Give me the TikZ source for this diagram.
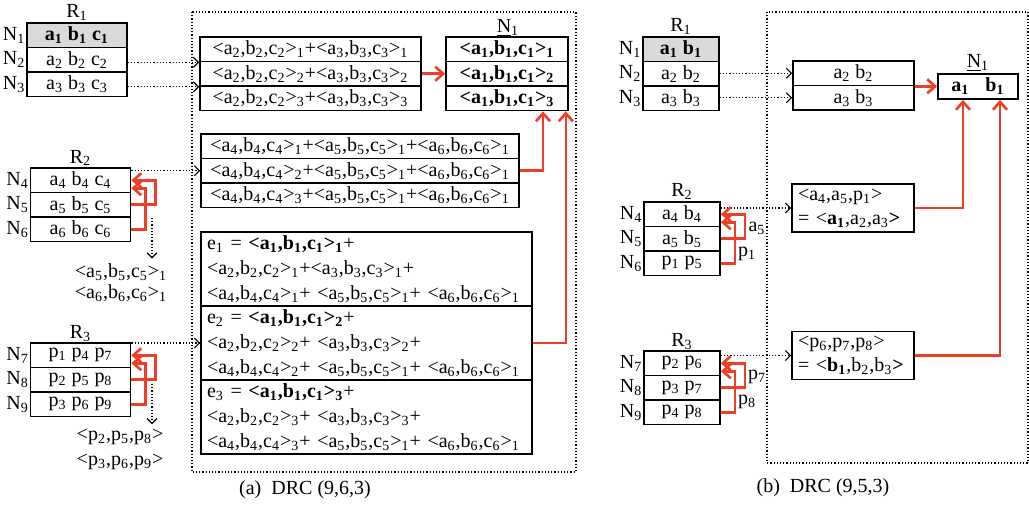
\documentclass[tikz,border=0pt]{standalone}
\usepackage{fontspec}
\setmainfont{Liberation Serif}
\usetikzlibrary{calc,arrows.meta}
\definecolor{linkred}{RGB}{238,62,40}
\definecolor{rowgray}{RGB}{218,218,218}
\newcommand{\idx}[1]{\textsubscript{#1}}
\newcommand{\tri}[2]{<a\idx{#1},b\idx{#1},c\idx{#1}>\idx{#2}}

\begin{document}
\begin{tikzpicture}[x=0.5pt, y=-0.5pt, line width=0.8pt,
    row/.style={draw, inner sep=0pt, minimum height=12.25pt},
    tag/.style={inner sep=0pt},
    ecell/.style={draw, inner xsep=3pt, inner ysep=0pt, text width=159.5pt, minimum height=37pt, align=left, font=\fontsize{10}{12.5}\selectfont},
    qcell/.style={draw, inner xsep=3pt, inner ysep=0pt, text width=55pt, minimum height=24pt, align=left, font=\fontsize{10}{12}\selectfont},
    dotarr/.style={densely dotted, line width=0.6pt, -{Straight Barb[length=2.5pt,width=5pt]}},
    redarr/.style={linkred, line width=1.3pt, -{Straight Barb[length=4pt,width=7pt]}}]
    \useasboundingbox (0,0) rectangle (1029,508);
    % (a) DRC (9,6,3)
    \draw[densely dotted, line width=0.6pt] (192,12) rectangle (576,472);
    \node[tag, anchor=base] (ra) at (77,18) {R\idx1};
    \node[row, minimum width=50pt, fill=rowgray] (ra1) at (77,35.25) {\textbf{a\idx1\ b\idx1\ c\idx1}};
    \node[row, minimum width=50pt] (ra2) at (77,59.75) {a\idx2 b\idx2 c\idx2};
    \node[row, minimum width=50pt] (ra3) at (77,84.25) {a\idx3 b\idx3 c\idx3};
    \node[tag, anchor=base] (rb) at (80.5,163) {R\idx2};
    \node[row, minimum width=50pt] (ra4) at (80.5,180.25) {a\idx4 b\idx4 c\idx4};
    \node[row, minimum width=50pt] (ra5) at (80.5,204.75) {a\idx5 b\idx5 c\idx5};
    \node[row, minimum width=50pt] (ra6) at (80.5,229.25) {a\idx6 b\idx6 c\idx6};
    \node[tag, anchor=base] (rc) at (80.5,338) {R\idx3};
    \node[row, minimum width=50pt] (ra7) at (80.5,355.25) {p\idx1 p\idx4 p\idx7};
    \node[row, minimum width=50pt] (ra8) at (80.5,379.75) {p\idx2 p\idx5 p\idx8};
    \node[row, minimum width=50pt] (ra9) at (80.5,404.25) {p\idx3 p\idx6 p\idx9};
    \foreach \i in {1,...,9}
        \node[tag, anchor=east] (ka\i) at (ra\i.west) {N\idx{\i}};
    \node[tag] (qa5) at (121,272) {\tri{5}{1}};
    \node[tag] (qa6) at (121,293) {\tri{6}{1}};
    \node[tag] (qa8) at (120,437) {<p\idx2,p\idx5,p\idx8>};
    \node[tag] (qa9) at (120,462) {<p\idx3,p\idx6,p\idx9>};
    % parity sums
    \node[row, minimum width=110.5pt] (sa1) at (310.5,49.25) {\tri{2}{1}+\tri{3}{1}};
    \node[row, minimum width=110.5pt] (sa2) at (310.5,73.75) {\tri{2}{2}+\tri{3}{2}};
    \node[row, minimum width=110.5pt] (sa3) at (310.5,98.25) {\tri{2}{3}+\tri{3}{3}};
    \node[tag, anchor=base] (na) at (508,33) {\underline{N}\idx1};
    \node[row, minimum width=61pt] (na1) at (507,49.25) {\textbf{\tri{1}{1}}};
    \node[row, minimum width=61pt] (na2) at (507,73.75) {\textbf{\tri{1}{2}}};
    \node[row, minimum width=61pt] (na3) at (507,98.25) {\textbf{\tri{1}{3}}};
    \node[row, minimum width=159pt] (sb1) at (360,146.25) {\tri{4}{1}+\tri{5}{1}+\tri{6}{1}};
    \node[row, minimum width=159pt] (sb2) at (360,170.75) {\tri{4}{2}+\tri{5}{1}+\tri{6}{1}};
    \node[row, minimum width=159pt] (sb3) at (360,195.25) {\tri{4}{3}+\tri{5}{1}+\tri{6}{1}};
    \node[ecell] (ea1) at (366.5,269) {e\idx1 = \textbf{\tri{1}{1}}+\\\tri{2}{1}+\tri{3}{1}+\\\tri{4}{1}+ \tri{5}{1}+ \tri{6}{1}};
    \node[ecell] (ea2) at (366.5,343) {e\idx2 = \textbf{\tri{1}{2}}+\\\tri{2}{2}+ \tri{3}{2}+\\\tri{4}{2}+ \tri{5}{1}+ \tri{6}{1}};
    \node[ecell] (ea3) at (366.5,417) {e\idx3 = \textbf{\tri{1}{3}}+\\\tri{2}{3}+ \tri{3}{3}+\\\tri{4}{3}+ \tri{5}{1}+ \tri{6}{1}};
    \node (capa) at (305,490) {(a)\hspace{0.5em}DRC (9,6,3)};
    % connectors (a)
    \draw[dotarr] (sa1.south west -| ra2.east) -- (sa1.south west);
    \draw[dotarr] (sa2.south west -| ra3.east) -- (sa2.south west);
    \draw[dotarr] (sb2.west -| ra4.east) -- (sb2.west);
    \draw[dotarr] (ea2.west -| ra7.east) -- (ea2.west);
    \coordinate (da2) at (152,218);
    \coordinate (da3) at (152,384);
    \draw[dotarr] (da2) -- ($(da2 |- qa5.north)+(0,-4)$);
    \draw[dotarr] (da3) -- ($(da3 |- qa8.north)+(0,-4)$);
    \draw[redarr] (ra5.east) -- ++(24,0) |- (ra4.east);
    \draw[redarr] (ra6.east) -- ++(14,0) |- ($(ra4.east)+(0,8)$);
    \draw[redarr] (ra8.east) -- ++(24,0) |- (ra7.east);
    \draw[redarr] (ra9.east) -- ++(14,0) |- ($(ra7.east)+(0,8)$);
    \draw[redarr] (sa2.east) -- (na2.west);
    \draw[redarr] (sb2.east) -| ($(na3.south)+(36,0)$);
    \draw[redarr] (ea2.east) -| ($(na3.south east)+(-3,0)$);

    % (b) DRC (9,5,3)
    \draw[densely dotted, line width=0.6pt] (767,12) rectangle (1028,463);
    \node[tag, anchor=base] (rd) at (681,32) {R\idx1};
    \node[row, minimum width=38pt, fill=rowgray] (rb1) at (681,49.25) {\textbf{a\idx1\ b\idx1}};
    \node[row, minimum width=38pt] (rb2) at (681,73.75) {a\idx2\ b\idx2};
    \node[row, minimum width=38pt] (rb3) at (681,98.25) {a\idx3\ b\idx3};
    \node[tag, anchor=base] (re) at (682,197) {R\idx2};
    \node[row, minimum width=38pt] (rb4) at (682,214.25) {a\idx4\ b\idx4};
    \node[row, minimum width=38pt] (rb5) at (682,238.75) {a\idx5\ b\idx5};
    \node[row, minimum width=38pt] (rb6) at (682,263.25) {p\idx1 p\idx5};
    \node[tag, anchor=base] (rf) at (682,346) {R\idx3};
    \node[row, minimum width=38pt] (rb7) at (682,363.25) {p\idx2 p\idx6};
    \node[row, minimum width=38pt] (rb8) at (682,387.75) {p\idx3 p\idx7};
    \node[row, minimum width=38pt] (rb9) at (682,412.25) {p\idx4 p\idx8};
    \foreach \i in {1,...,9}
        \node[tag, anchor=east] (kb\i) at (rb\i.west) {N\idx{\i}};
    \node[row, minimum width=60.5pt] (sc1) at (853.5,73.25) {a\idx2\ b\idx2};
    \node[row, minimum width=60.5pt] (sc2) at (853.5,97.75) {a\idx3\ b\idx3};
    \node[tag, anchor=base] (nb0) at (978,68) {\underline{N}\idx1};
    \node[row, minimum width=40pt, minimum height=12.5pt] (nb) at (978,86.5) {\textbf{a\idx1\hspace{0.8em}b\idx1}};
    \node[qcell] (qb1) at (853,208) {<a\idx4,a\idx5,p\idx1>\\= <\textbf{a\idx1},a\idx2,a\idx3\textbf{>}};
    \node[qcell] (qb2) at (853,355.5) {<p\idx6,p\idx7,p\idx8>\\= <\textbf{b\idx1},b\idx2,b\idx3\textbf{>}};
    \node[tag] (la5) at (757,228) {a\idx5};
    \node[tag] (lp1) at (747,254) {p\idx1};
    \node[tag] (lp7) at (757,377) {p\idx7};
    \node[tag] (lp8) at (747,402) {p\idx8};
    \node (capb) at (823,488) {(b)\hspace{0.5em}DRC (9,5,3)};
    % connectors (b)
    \draw[dotarr] (sc1.west -| rb2.east) -- (sc1.west);
    \draw[dotarr] (sc2.west -| rb3.east) -- (sc2.west);
    \draw[dotarr] (qb1.west -| rb4.east) -- (qb1.west);
    \draw[dotarr] (qb2.west -| rb7.east) -- (qb2.west);
    \draw[redarr] (rb5.east) -- ++(24,0) |- (rb4.east);
    \draw[redarr] (rb6.east) -- ++(14,0) |- ($(rb4.east)+(0,8)$);
    \draw[redarr] (rb8.east) -- ++(24,0) |- (rb7.east);
    \draw[redarr] (rb9.east) -- ++(14,0) |- ($(rb7.east)+(0,8)$);
    \draw[redarr] (sc1.south east) -- (sc1.south east -| nb.west);
    \draw[redarr] (qb1.east) -| ($(nb.south)+(-15,0)$);
    \draw[redarr] (qb2.east) -| ($(nb.south)+(22,0)$);
\end{tikzpicture}
\end{document}
